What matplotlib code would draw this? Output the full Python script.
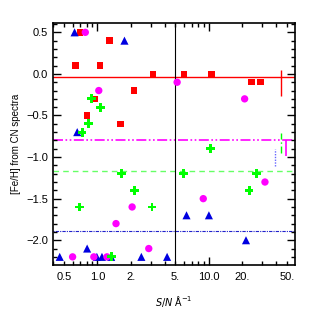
import matplotlib
matplotlib.use("Agg")
import matplotlib.pyplot as plt
from matplotlib.ticker import FixedLocator, FixedFormatter

plt.rcParams['font.family'] = ['Liberation Sans', 'DejaVu Sans']

# Red squares
red_x = [0.70, 1.29, 0.64, 1.06, 3.16, 2.13, 0.95, 0.81, 1.61, 6.0, 10.6, 24.0, 28.9]
red_y = [0.5, 0.4, 0.1, 0.1, 0.0, -0.2, -0.3, -0.5, -0.6, 0.0, 0.0, -0.1, -0.1]
# Blue triangles
blue_x = [0.625, 1.75, 0.66, 0.81, 0.46, 0.99, 1.10, 1.33, 2.48, 4.22, 6.3, 10.0, 21.5]
blue_y = [0.5, 0.4, -0.7, -2.1, -2.2, -2.2, -2.2, -2.2, -2.2, -2.2, -1.7, -1.7, -2.0]
# Magenta circles
mag_x = [0.78, 1.03, 5.19, 20.9, 2.05, 1.47, 2.89, 0.60, 0.93, 1.22, 8.9, 31.8]
mag_y = [0.5, -0.2, -0.1, -0.3, -1.6, -1.8, -2.1, -2.2, -2.2, -2.2, -1.5, -1.3]
# Green crosses
grn_x = [0.89, 1.07, 0.83, 0.73, 1.65, 2.16, 0.69, 3.09, 1.35, 10.4, 5.88, 26.8, 22.9]
grn_y = [-0.3, -0.4, -0.6, -0.7, -1.2, -1.4, -1.6, -1.6, -2.2, -0.9, -1.2, -1.2, -1.4]

# Reference levels
red_level = -0.04
mag_level = -0.80
grn_level = -1.17
blu_level = -1.89
# vertical range bars (x, ymin, ymax)
red_bar = (44.0, -0.26, 0.05)
grn_bar = (44.0, -0.95, -0.71)
mag_bar = (48.9, -0.99, -0.79)
blu_bar = (39.2, -1.11, -0.90)

fig = plt.figure(figsize=(3.19, 3.29), dpi=100)
ax = fig.add_axes([0.166, 0.195, 0.760, 0.734])
ax.set_xscale('log')
ax.set_xlim(0.40, 59.6)
ax.set_ylim(-2.296, 0.608)

ax.axhline(red_level, color='red', lw=1.0, zorder=1)
ax.axhline(mag_level, color='magenta', lw=1.2, ls=(0, (6, 1.5, 1, 1.5, 1, 1.5)), zorder=1)
ax.axhline(grn_level, color='#66ff66', lw=1.0, ls=(0, (4, 3)), zorder=1)
ax.axhline(blu_level, color='#2222cc', lw=0.8, ls=(0, (1, 1, 3, 1)), zorder=1)
ax.axvline(5.0, color='black', lw=0.8, zorder=1)

ax.vlines(red_bar[0], red_bar[1], red_bar[2], color='red', lw=1.0)
ax.vlines(grn_bar[0], grn_bar[1], grn_bar[2], color='#00ff00', lw=1.0, ls=(0, (5, 2, 1, 2)))
ax.vlines(mag_bar[0], mag_bar[1], mag_bar[2], color='magenta', lw=1.2)
ax.vlines(blu_bar[0], blu_bar[1], blu_bar[2], color='#6666ff', lw=1.0, ls=(0, (1, 1)))

ax.scatter(red_x, red_y, marker='s', s=22, color='red', edgecolors='none', zorder=3)
ax.scatter(blue_x, blue_y, marker='^', s=34, color='#0000e0', edgecolors='none', zorder=3)
ax.scatter(mag_x, mag_y, marker='o', s=28, color='magenta', edgecolors='none', zorder=3)
ax.scatter(grn_x, grn_y, marker='P', s=40, color='#00ff00', edgecolors='none', zorder=4)

major_x = [1.0, 10.0]
major_lab = ['1.0', '10.0']
minor_x = [0.4, 0.5, 0.6, 0.7, 0.8, 0.9, 2, 3, 4, 5, 6, 7, 8, 9, 20, 30, 40, 50]
minor_lab = ['', '0.5', '', '', '', '', '2.', '', '', '5.', '', '', '', '', '20.', '', '', '50.']
ax.xaxis.set_major_locator(FixedLocator(major_x))
ax.xaxis.set_major_formatter(FixedFormatter(major_lab))
ax.xaxis.set_minor_locator(FixedLocator(minor_x))
ax.xaxis.set_minor_formatter(FixedFormatter(minor_lab))

yt = [-2.0, -1.5, -1.0, -0.5, 0.0, 0.5]
ax.set_yticks(yt)
ax.set_yticklabels(['\u22122.0', '\u22121.5', '\u22121.0', '\u22120.5', '0.0', '0.5'])
ax.set_yticks([v / 10 for v in range(-22, 7)], minor=True)

ax.tick_params(which='both', direction='in', top=True, right=True, labelsize=8, width=1.0)
ax.tick_params(which='major', length=6)
ax.tick_params(which='minor', length=3)
ax.tick_params(axis='x', which='both', pad=5)

for sp in ax.spines.values():
    sp.set_linewidth(1.2)

ax.set_xlabel('$\\it{S/N}$ \u00c5$^{-1}$', fontsize=7, labelpad=9)
ax.set_ylabel('[Fe/H] from CN spectra', fontsize=7, labelpad=4)

fig.savefig('out.png', dpi=100)
